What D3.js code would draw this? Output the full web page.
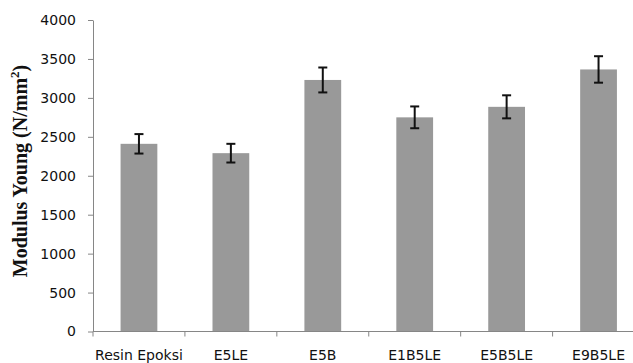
<!DOCTYPE html>
<html><head><meta charset="utf-8">
<script src="https://cdn.jsdelivr.net/npm/d3@7/dist/d3.min.js"></script>
<style>body{margin:0;background:#fff}svg{display:block}</style>
</head><body>
<svg id="c" width="633" height="363"></svg>
<script>
const categories = ["Resin Epoksi","E5LE","E5B","E1B5LE","E5B5LE","E9B5LE"];
const values = [2410, 2290, 3230, 2750, 2885, 3365];
const errors = [125, 120, 160, 140, 148, 170];
const yTicks = [0,500,1000,1500,2000,2500,3000,3500,4000];

const svg = d3.select("#c");
const x0 = 93, x1 = 644.5, yTop = 20, yBot = 331.5;
const y = d3.scaleLinear().domain([0,4000]).range([yBot, yTop]);
const x = d3.scaleBand().domain(categories).range([x0, x1]).paddingInner(0.6).paddingOuter(0.3);
const xb = d3.scaleLinear().domain([0, categories.length]).range([x0, x1]);

// bars
svg.append("g").selectAll("rect").data(categories).join("rect")
  .attr("x", d => x(d)).attr("width", x.bandwidth())
  .attr("y", (d,i) => y(values[i])).attr("height", (d,i) => y(0) - y(values[i]))
  .attr("fill", "#999999");

// error bars
const eg = svg.append("g").attr("stroke", "#111").attr("stroke-width", 2);
categories.forEach((c,i) => {
  const cx = x(c) + x.bandwidth()/2;
  const t = y(values[i] + errors[i]), b = y(values[i] - errors[i]);
  eg.append("line").attr("x1", cx).attr("x2", cx).attr("y1", t).attr("y2", b);
  eg.append("line").attr("x1", cx-4.5).attr("x2", cx+4.5).attr("y1", t).attr("y2", t);
  eg.append("line").attr("x1", cx-4.5).attr("x2", cx+4.5).attr("y1", b).attr("y2", b);
});

// y axis
const ya = svg.append("g").attr("transform", `translate(${x0},0)`)
  .call(d3.axisLeft(y).tickValues(yTicks).tickSize(5).tickPadding(12).tickSizeOuter(0).tickFormat(d3.format("d")));
ya.select(".domain").attr("stroke", "#868686");
ya.selectAll(".tick line").attr("stroke", "#868686");
ya.selectAll(".tick text").attr("font-family", "DejaVu Sans").attr("font-size", 14).attr("fill", "#111");

// x axis
svg.append("line").attr("x1", x0).attr("x2", x1).attr("y1", yBot).attr("y2", yBot).attr("stroke", "#868686");
svg.append("g").selectAll("line").data(d3.range(categories.length + 1)).join("line")
  .attr("x1", d => xb(d)).attr("x2", d => xb(d)).attr("y1", yBot).attr("y2", yBot + 5)
  .attr("stroke", "#868686");
svg.append("g").selectAll("text").data(categories).join("text")
  .attr("x", d => x(d) + x.bandwidth()/2).attr("y", 360)
  .attr("text-anchor", "middle").attr("font-family", "DejaVu Sans").attr("font-size", 14).attr("fill", "#111")
  .text(d => d);

// y title
const t = svg.append("text").attr("transform", "translate(27,171) rotate(-90)")
  .attr("text-anchor", "middle").attr("font-family", "Liberation Serif").attr("font-weight", "bold")
  .attr("font-size", 20).attr("fill", "#111");
t.append("tspan").text("Modulus Young (N/mm");
t.append("tspan").attr("font-size", 13).attr("dy", -8).text("2");
t.append("tspan").attr("dy", 8).text(")");
</script>
</body></html>
